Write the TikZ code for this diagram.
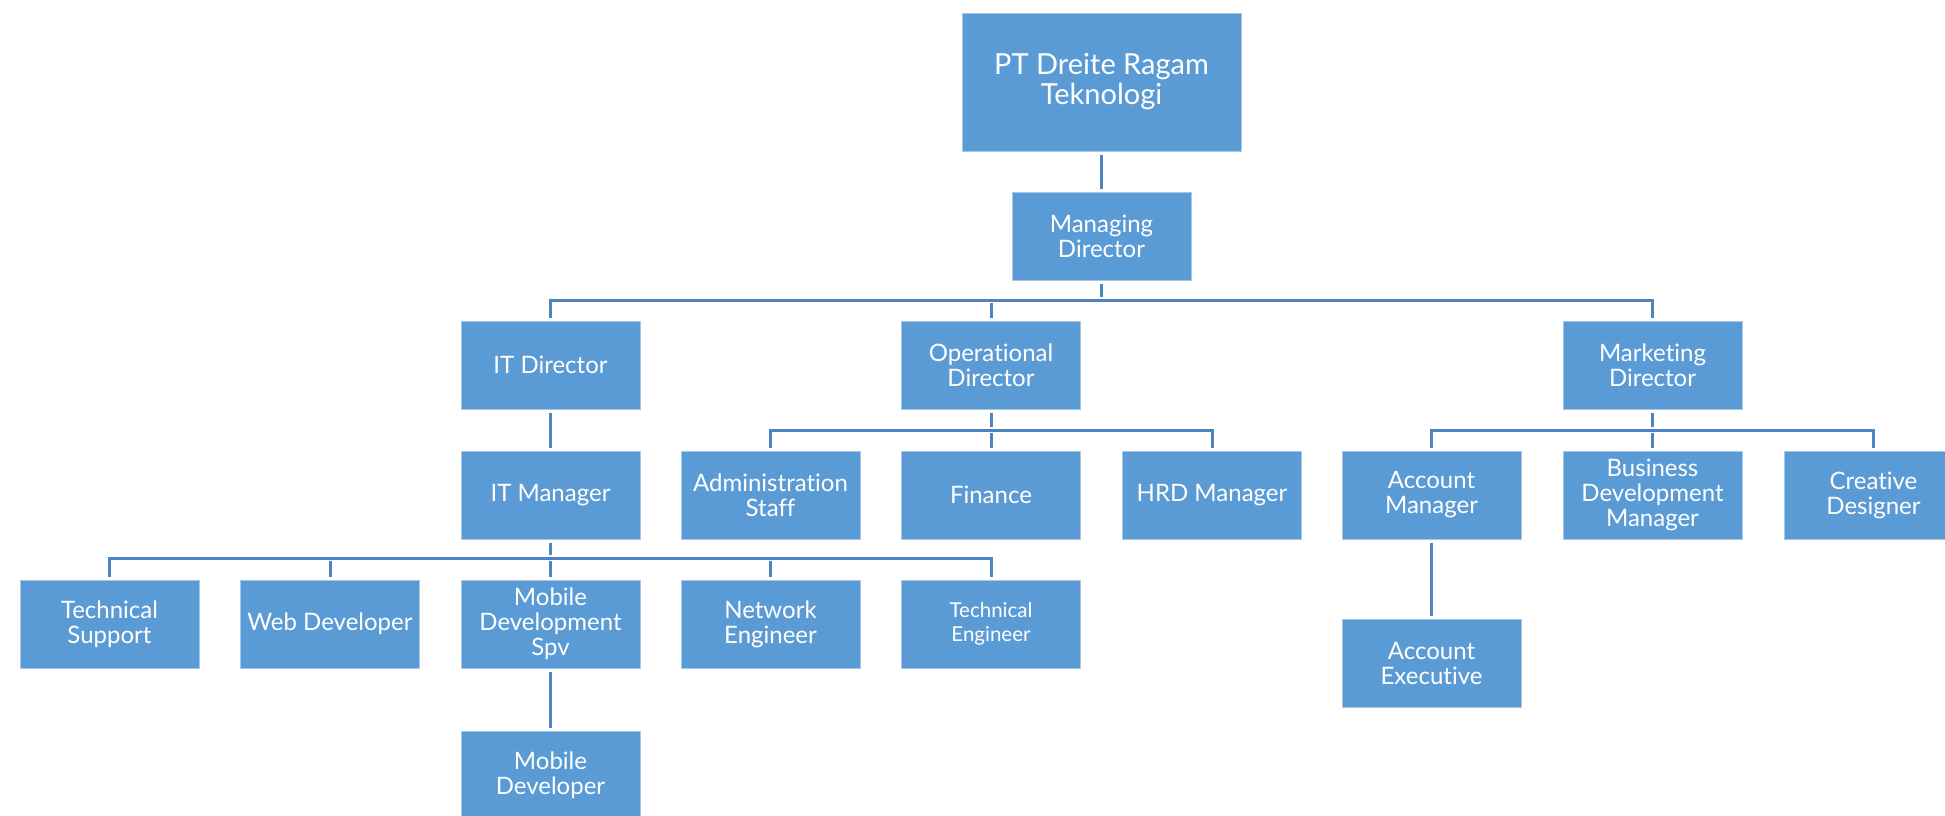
\documentclass[tikz,border=0pt]{standalone}
\usepackage{fontspec}
\setmainfont{Lato}[Ligatures=NoCommon]
\definecolor{boxblue}{HTML}{5B9BD5}
\definecolor{connblue}{HTML}{4C84C0}
\begin{document}
\begin{tikzpicture}[x=1pt,y=-1pt,
  box/.style={rectangle, fill=boxblue, draw=boxblue!55!white, line width=1pt,
    minimum width=179pt, minimum height=88pt, inner sep=0pt, text=white,
    align=center, font=\fontsize{24}{25}\selectfont},
  conn/.style={draw=connblue, line width=3pt, shorten <=3pt, shorten >=3pt}]
\useasboundingbox[fill=white] (0,0) rectangle (1945,815);
% nodes
\node[box, minimum width=279pt, minimum height=138pt, font=\fontsize{29}{30}\selectfont] (top) at (1101.5,82) {PT Dreite Ragam\\Teknologi};
\node[box] (md) at (1101.5,236) {Managing\\Director};
\node[box] (itd) at (550.5,365) {IT Director};
\node[box] (opd) at (991,365) {Operational\\Director};
\node[box] (mkd) at (1652.5,365) {Marketing\\Director};
\node[box] (itm) at (550.5,495) {IT Manager};
\node[box] (adm) at (770.5,495) {Administration\\Staff};
\node[box] (fin) at (991,495) {Finance};
\node[box] (hrd) at (1212,495) {HRD Manager};
\node[box] (acm) at (1431.5,495) {Account\\Manager};
\node[box] (bdm) at (1652.5,495) {Business\\Development\\Manager};
\node[box] (crd) at (1873.5,495) {Creative\\Designer};
\node[box] (ts) at (109.5,624) {Technical\\Support};
\node[box] (wd) at (330,624) {Web Developer};
\node[box] (mds) at (550.5,624) {Mobile\\Development\\Spv};
\node[box] (ne) at (770.5,624) {Network\\Engineer};
\node[box, font=\fontsize{20.5}{24}\selectfont] (te) at (991,624) {Technical\\Engineer};
\node[box] (mdev) at (550.5,775) {Mobile\\Developer};
\node[box] (ae) at (1431.5,663) {Account\\Executive};
% bus levels
\coordinate (busA) at (0,300);
\coordinate (busB) at (0,430);
\coordinate (busC) at (0,558);
% connectors
\draw[conn] (top.south) -- (md.north);
\draw[conn] (md.south) -- (md.south |- busA);
\draw[conn] (itd.north) |- (mkd.north |- busA) -- (mkd.north);
\draw[conn] (opd.north) -- (opd.north |- busA);
\draw[conn] (itd.south) -- (itm.north);
\draw[conn] (opd.south) -- (opd.south |- busB);
\draw[conn] (adm.north) |- (hrd.north |- busB) -- (hrd.north);
\draw[conn] (fin.north) -- (fin.north |- busB);
\draw[conn] (mkd.south) -- (mkd.south |- busB);
\draw[conn] (acm.north) |- (crd.north |- busB) -- (crd.north);
\draw[conn] (bdm.north) -- (bdm.north |- busB);
\draw[conn] (acm.south) -- (ae.north);
\draw[conn] (itm.south) -- (itm.south |- busC);
\draw[conn] (ts.north) |- (te.north |- busC) -- (te.north);
\draw[conn] (wd.north) -- (wd.north |- busC);
\draw[conn] (mds.north) -- (mds.north |- busC);
\draw[conn] (ne.north) -- (ne.north |- busC);
\draw[conn] (mds.south) -- (mdev.north);
\end{tikzpicture}
\end{document}
